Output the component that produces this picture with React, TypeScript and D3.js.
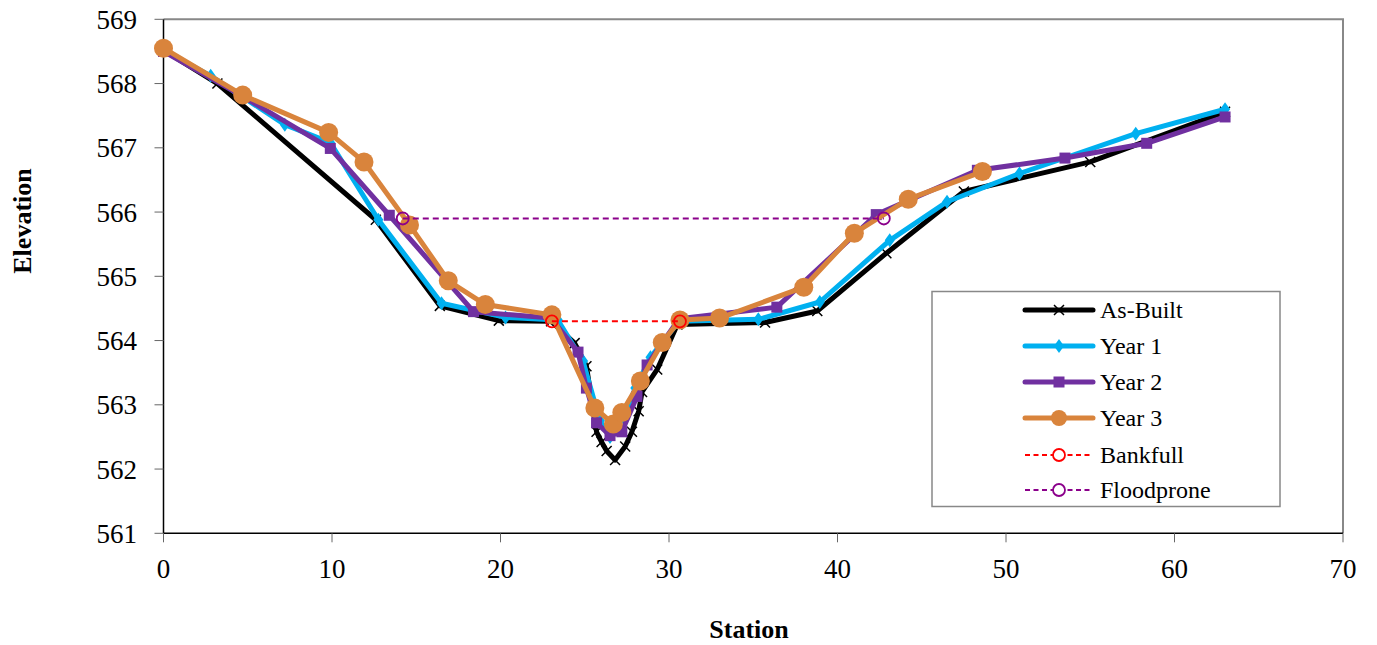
import React from "react";
import * as d3 from "d3";

type Pt = [number, number];

// Cross-section survey: station (ft) vs elevation (ft)
const asBuilt: Pt[] = [
  [0, 568.52], [3.2, 568.0], [12.6, 565.88], [16.4, 564.54], [19.9, 564.31], [23.0, 564.3],
  [24.4, 563.96], [25.1, 563.6], [25.7, 562.58], [26.0, 562.42], [26.3, 562.28], [26.8, 562.14],
  [27.4, 562.35], [27.8, 562.58], [28.2, 562.9], [28.4, 563.2], [29.3, 563.55], [30.5, 564.25],
  [35.7, 564.28], [38.8, 564.46], [42.9, 565.36], [47.5, 566.32], [55.0, 566.78], [63.0, 567.56],
];

const year1: Pt[] = [
  [0, 568.52], [2.8, 568.12], [7.2, 567.36], [9.9, 567.08], [12.75, 565.88], [16.5, 564.58],
  [20.3, 564.36], [23.4, 564.32], [24.9, 563.68], [25.9, 562.75], [26.5, 562.5], [27.3, 562.8],
  [28.0, 563.26], [28.9, 563.74], [30.6, 564.3], [35.3, 564.33], [38.95, 564.6], [43.1, 565.56],
  [46.5, 566.16], [50.8, 566.6], [57.7, 567.22], [63.0, 567.6],
];

const year2: Pt[] = [
  [0, 568.5], [4.7, 567.8], [9.9, 566.99], [13.4, 565.95], [18.4, 564.45], [23.0, 564.35],
  [24.6, 563.82], [25.1, 563.26], [25.7, 562.72], [26.5, 562.52], [27.2, 562.58], [28.1, 563.13],
  [28.7, 563.62], [30.6, 564.34], [36.4, 564.52], [42.3, 565.96], [48.3, 566.65], [53.5, 566.84],
  [58.35, 567.07], [63.0, 567.48],
];

const year3: Pt[] = [
  [0, 568.55], [4.7, 567.82], [9.8, 567.24], [11.9, 566.78], [14.6, 565.8], [16.9, 564.93],
  [19.1, 564.56], [23.05, 564.4], [25.6, 562.95], [26.7, 562.7], [27.2, 562.88], [28.3, 563.37],
  [29.6, 563.97], [30.65, 564.32], [33.0, 564.35], [38.0, 564.83], [41.0, 565.67], [44.2, 566.2],
  [48.6, 566.63],
];

const bankfull: Pt[] = [[23.05, 564.3], [30.65, 564.3]];
const floodprone: Pt[] = [[14.2, 565.9], [42.75, 565.9]];

const xTicks = [0, 10, 20, 30, 40, 50, 60, 70];
const yTicks = [561, 562, 563, 564, 565, 566, 567, 568, 569];

const legendLabels = ["As-Built", "Year 1", "Year 2", "Year 3", "Bankfull", "Floodprone"];

const W = 1377;
const H = 645;
const left = 163.5;
const right = 1343;
const top = 19.3;
const bottom = 533.3;

const FONT = "'Liberation Serif', 'Times New Roman', serif";

const C_BLACK = "#000000";
const C_Y1 = "#00B0F0";
const C_Y2 = "#7030A0";
const C_Y3 = "#D9843C";
const C_BF = "#FF0000";
const C_FP = "#8B008B";

const x = d3.scaleLinear().domain([0, 70]).range([left, right]);
const y = d3.scaleLinear().domain([561, 569]).range([bottom, top]);

const line = d3
  .line<Pt>()
  .x((d) => x(d[0]))
  .y((d) => y(d[1]));

function XMark({ cx, cy, s = 5 }: { cx: number; cy: number; s?: number }) {
  return (
    <path
      d={`M${cx - s},${cy - s}L${cx + s},${cy + s}M${cx - s},${cy + s}L${cx + s},${cy - s}`}
      stroke={C_BLACK}
      strokeWidth={1.5}
      fill="none"
    />
  );
}

function Diamond({ cx, cy, fill }: { cx: number; cy: number; fill: string }) {
  return (
    <path
      d={`M${cx},${cy - 7}L${cx + 5},${cy}L${cx},${cy + 7}L${cx - 5},${cy}Z`}
      fill={fill}
    />
  );
}

function Square({ cx, cy, fill }: { cx: number; cy: number; fill: string }) {
  return <rect x={cx - 5.5} y={cy - 5.5} width={11} height={11} fill={fill} />;
}

export default function App() {
  const legendX0 = 1025;
  const legendX1 = 1093;
  const legendMid = (legendX0 + legendX1) / 2;
  const legendRows = [310, 346, 382, 418, 455, 490];

  return (
    <svg width={W} height={H} style={{ position: "absolute", left: 0, top: 0 }}>
      <rect x={0} y={0} width={W} height={H} fill="#ffffff" />

      {/* plot frame: grey top/right border, black axes */}
      <path d={`M${left},${top}H${right}V${bottom}`} stroke="#888888" strokeWidth={2} fill="none" />
      <line x1={left} x2={right} y1={bottom} y2={bottom} stroke="#000" strokeWidth={1.5} />
      <line x1={left} x2={left} y1={top} y2={bottom} stroke="#000" strokeWidth={1.5} />

      {/* y axis ticks and labels */}
      {yTicks.map((t) => (
        <g key={`y${t}`}>
          <line x1={left - 9} x2={left} y1={y(t)} y2={y(t)} stroke="#666" strokeWidth={1} />
          <text
            x={137}
            y={y(t)}
            dy="0.35em"
            textAnchor="end"
            fontFamily={FONT}
            fontSize={27}
            fill="#000"
          >
            {t}
          </text>
        </g>
      ))}

      {/* x axis ticks and labels */}
      {xTicks.map((t) => (
        <g key={`x${t}`}>
          <line x1={x(t)} x2={x(t)} y1={bottom} y2={bottom + 9} stroke="#666" strokeWidth={1} />
          <text
            x={x(t)}
            y={578}
            textAnchor="middle"
            fontFamily={FONT}
            fontSize={27}
            fill="#000"
          >
            {t}
          </text>
        </g>
      ))}

      {/* axis titles */}
      <text x={749} y={638} textAnchor="middle" fontFamily={FONT} fontSize={26} fontWeight="bold">
        Station
      </text>
      <text
        transform={`translate(31,221) rotate(-90)`}
        textAnchor="middle"
        fontFamily={FONT}
        fontSize={26}
        fontWeight="bold"
      >
        Elevation
      </text>

      {/* As-Built */}
      <path d={line(asBuilt) ?? ""} stroke={C_BLACK} strokeWidth={5} fill="none" strokeLinejoin="round" />
      {asBuilt.map((d, i) => (
        <XMark key={`ab${i}`} cx={x(d[0])} cy={y(d[1])} />
      ))}

      {/* Year 1 */}
      <path d={line(year1) ?? ""} stroke={C_Y1} strokeWidth={5} fill="none" strokeLinejoin="round" />
      {year1.map((d, i) => (
        <Diamond key={`y1${i}`} cx={x(d[0])} cy={y(d[1])} fill={C_Y1} />
      ))}

      {/* Year 2 */}
      <path d={line(year2) ?? ""} stroke={C_Y2} strokeWidth={5} fill="none" strokeLinejoin="round" />
      {year2.map((d, i) => (
        <Square key={`y2${i}`} cx={x(d[0])} cy={y(d[1])} fill={C_Y2} />
      ))}

      {/* Year 3 */}
      <path d={line(year3) ?? ""} stroke={C_Y3} strokeWidth={5} fill="none" strokeLinejoin="round" />
      {year3.map((d, i) => (
        <circle key={`y3${i}`} cx={x(d[0])} cy={y(d[1])} r={9.5} fill={C_Y3} />
      ))}

      {/* Bankfull */}
      <path d={line(bankfull) ?? ""} stroke={C_BF} strokeWidth={2} strokeDasharray="6,4" fill="none" />
      {bankfull.map((d, i) => (
        <circle key={`bf${i}`} cx={x(d[0])} cy={y(d[1])} r={6} fill="none" stroke={C_BF} strokeWidth={1.8} />
      ))}

      {/* Floodprone */}
      <path d={line(floodprone) ?? ""} stroke={C_FP} strokeWidth={2} strokeDasharray="6,4" fill="none" />
      {floodprone.map((d, i) => (
        <circle key={`fp${i}`} cx={x(d[0])} cy={y(d[1])} r={6} fill="none" stroke={C_FP} strokeWidth={1.8} />
      ))}

      {/* legend */}
      <rect x={932} y={291.5} width={348} height={215} fill="#ffffff" stroke="#888888" strokeWidth={1.5} />
      {legendLabels.map((lab, i) => {
        const ly = legendRows[i];
        let sample: React.ReactNode = null;
        if (i === 0) {
          sample = (
            <>
              <line x1={legendX0} x2={legendX1} y1={ly} y2={ly} stroke={C_BLACK} strokeWidth={5} strokeLinecap="round" />
              <XMark cx={legendMid} cy={ly} />
            </>
          );
        } else if (i === 1) {
          sample = (
            <>
              <line x1={legendX0} x2={legendX1} y1={ly} y2={ly} stroke={C_Y1} strokeWidth={5} strokeLinecap="round" />
              <Diamond cx={legendMid} cy={ly} fill={C_Y1} />
            </>
          );
        } else if (i === 2) {
          sample = (
            <>
              <line x1={legendX0} x2={legendX1} y1={ly} y2={ly} stroke={C_Y2} strokeWidth={5} strokeLinecap="round" />
              <Square cx={legendMid} cy={ly} fill={C_Y2} />
            </>
          );
        } else if (i === 3) {
          sample = (
            <>
              <line x1={legendX0} x2={legendX1} y1={ly} y2={ly} stroke={C_Y3} strokeWidth={5} strokeLinecap="round" />
              <circle cx={legendMid} cy={ly} r={8} fill={C_Y3} />
            </>
          );
        } else {
          const c = i === 4 ? C_BF : C_FP;
          sample = (
            <>
              <line x1={legendX0} x2={legendX1} y1={ly} y2={ly} stroke={c} strokeWidth={1.8} strokeDasharray="5,3.5" />
              <circle cx={legendMid} cy={ly} r={6} fill="#ffffff" stroke={c} strokeWidth={1.8} />
            </>
          );
        }
        return (
          <g key={lab}>
            {sample}
            <text x={1100} y={ly} dy="0.35em" fontFamily={FONT} fontSize={24} fill="#000">
              {lab}
            </text>
          </g>
        );
      })}
    </svg>
  );
}
